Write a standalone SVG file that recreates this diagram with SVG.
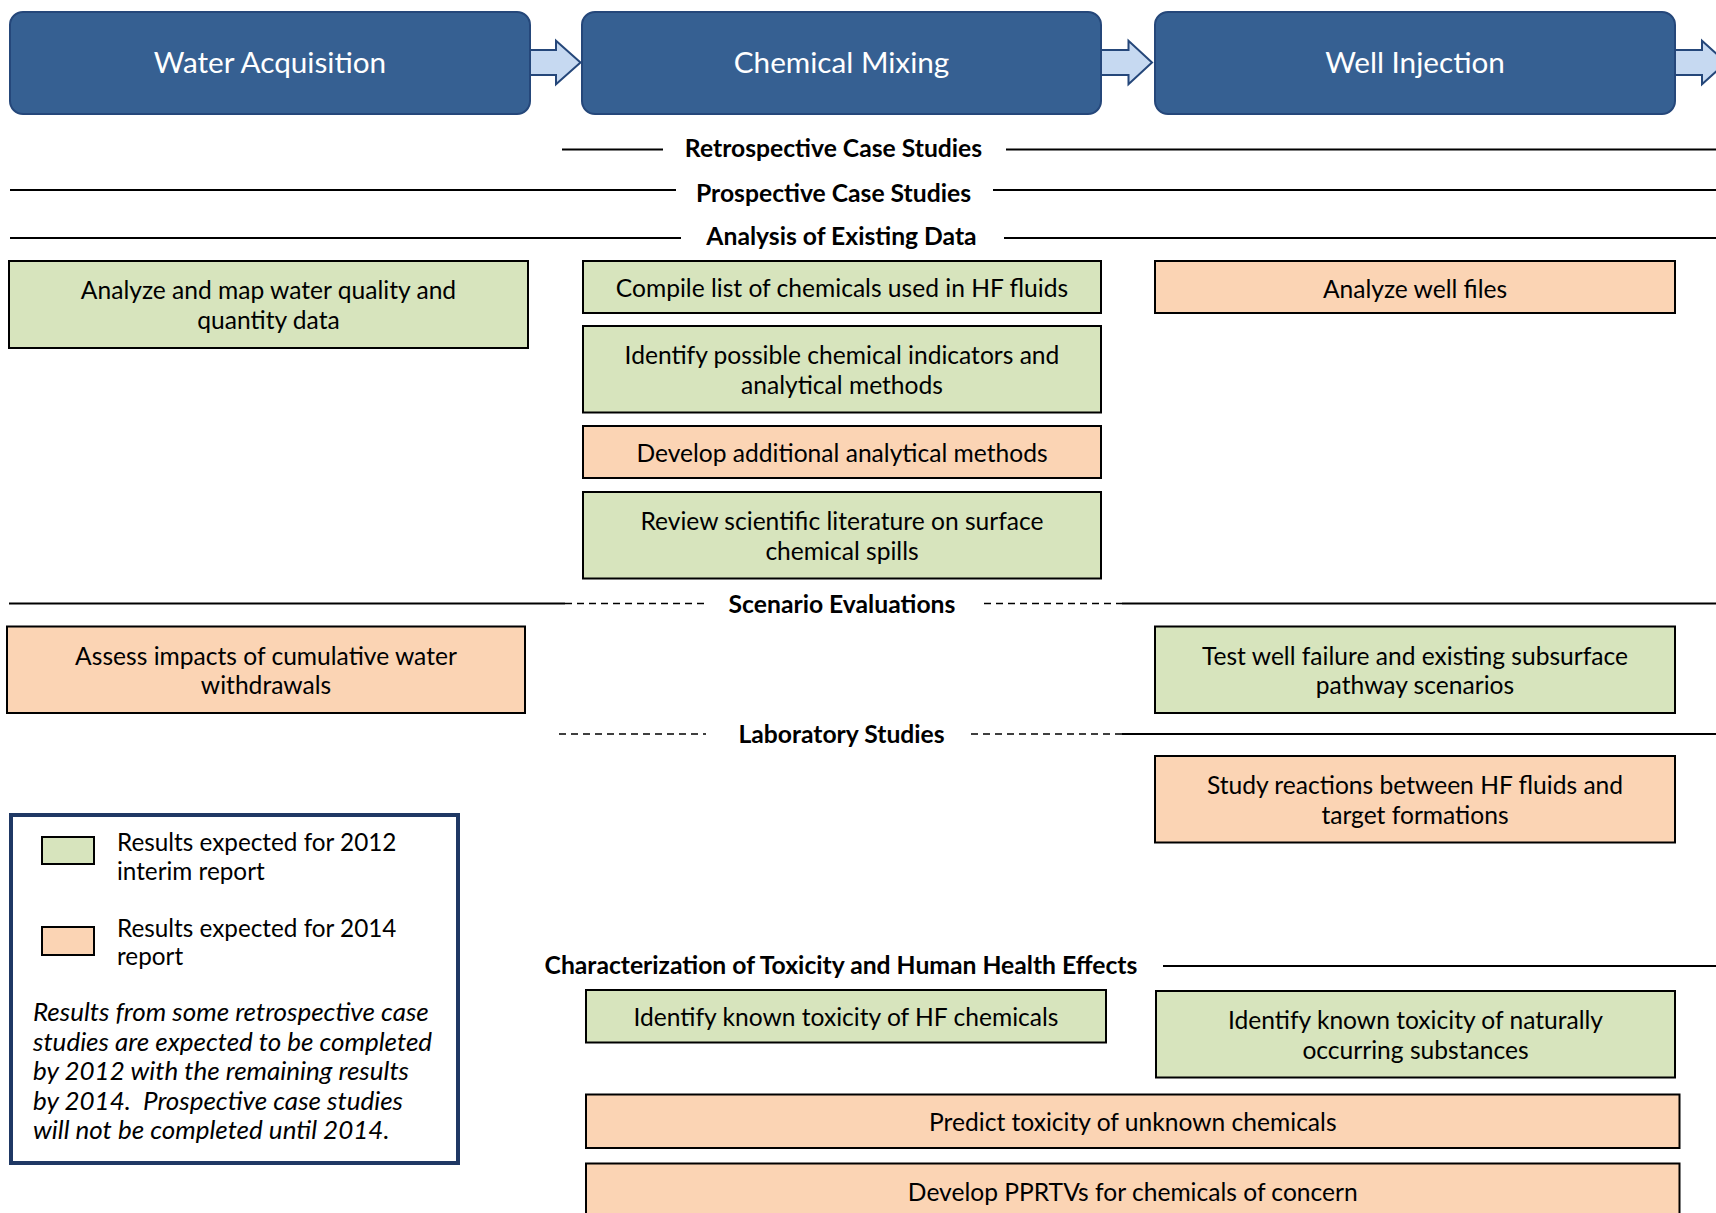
<svg xmlns="http://www.w3.org/2000/svg" width="1716" height="1213" viewBox="0 0 1716 1213">
<style>
.hdr{fill:#366092;stroke:#25477A;stroke-width:2}
.hdrt{font-family:Lato,"Liberation Sans",sans-serif;font-size:29.7px;fill:#fff;text-anchor:middle}
.g{fill:#D7E4BD;stroke:#000;stroke-width:2}
.o{fill:#FBD4B4;stroke:#000;stroke-width:2}
.t{font-family:Lato,"Liberation Sans",sans-serif;font-size:24.6px;fill:#000;text-anchor:middle}
.lb{font-family:Lato,"Liberation Sans",sans-serif;font-size:24.7px;font-weight:bold;fill:#000;text-anchor:middle}
.lt{font-family:Lato,"Liberation Sans",sans-serif;font-size:24.3px;fill:#000}
.it{font-family:Lato,"Liberation Sans",sans-serif;font-size:26px;font-style:italic;fill:#000}
.ln{stroke:#000;stroke-width:2;fill:none}
.dl{stroke:#000;stroke-width:1.6;fill:none;stroke-dasharray:7 5}
.arr{fill:#C6D9F1;stroke:#25477A;stroke-width:2;stroke-linejoin:miter}
</style>
<rect width="1716" height="1213" fill="#fff"/>
<g id="connectors">
<path class="arr" d="M526,50 L556,50 L556,40.7 L580.5,62.5 L556,84.3 L556,75 L526,75 Z"/>
<path class="arr" d="M1097,50 L1128.5,50 L1128.5,40.7 L1152,62.5 L1128.5,84.3 L1128.5,75 L1097,75 Z"/>
<path class="arr" d="M1671,50 L1702,50 L1702,40.7 L1726,62.5 L1702,84.3 L1702,75 L1671,75 Z"/>
</g>
<g id="header-water">
<rect class="hdr" x="10" y="12" width="520" height="102" rx="13"/>
<text class="hdrt" x="270" y="72.5">Water Acquisition</text>
</g>
<g id="header-chemical">
<rect class="hdr" x="582" y="12" width="519" height="102" rx="13"/>
<text class="hdrt" x="841.5" y="72.5">Chemical Mixing</text>
</g>
<g id="header-well">
<rect class="hdr" x="1155" y="12" width="520" height="102" rx="13"/>
<text class="hdrt" x="1415" y="72.5">Well Injection</text>
</g>
<g id="section-lines">
<line class="ln" x1="562" y1="149.5" x2="663" y2="149.5" stroke-width="1.6"/>
<line class="ln" x1="1006" y1="149.5" x2="1716" y2="149.5" stroke-width="1.6"/>
<line class="ln" x1="10" y1="190" x2="676" y2="190"/>
<line class="ln" x1="993" y1="190" x2="1716" y2="190"/>
<line class="ln" x1="10" y1="238" x2="681" y2="238" stroke-width="1.6"/>
<line class="ln" x1="1004" y1="238" x2="1716" y2="238" stroke-width="1.6"/>
<line class="ln" x1="9" y1="603.5" x2="565" y2="603.5"/>
<line class="dl" x1="565" y1="603.5" x2="705" y2="603.5"/>
<line class="dl" x1="984" y1="603.5" x2="1122" y2="603.5"/>
<line class="ln" x1="1122" y1="603.5" x2="1716" y2="603.5"/>
<line class="dl" x1="559" y1="734" x2="706" y2="734"/>
<line class="dl" x1="971" y1="734" x2="1122" y2="734"/>
<line class="ln" x1="1122" y1="734" x2="1716" y2="734"/>
<line class="ln" x1="1163" y1="966" x2="1716" y2="966"/>
</g>
<g id="section-labels">
<text class="lb" x="833.5" y="157">Retrospective Case Studies</text>
<text class="lb" x="833.5" y="202">Prospective Case Studies</text>
<text class="lb" x="841.5" y="244.5">Analysis of Existing Data</text>
<text class="lb" x="842" y="613">Scenario Evaluations</text>
<text class="lb" x="841.5" y="743">Laboratory Studies</text>
<text class="lb" x="841" y="974">Characterization of Toxicity and Human Health Effects</text>
</g>
<g id="analyze-map">
<rect class="g" x="9" y="261" width="519" height="87"/>
<text class="t" x="268.5" y="299">Analyze and map water quality and</text>
<text class="t" x="268.5" y="328.5">quantity data</text>
</g>
<g id="compile-list">
<rect class="g" x="583" y="261" width="518" height="52"/>
<text class="t" x="842" y="297">Compile list of chemicals used in HF fluids</text>
</g>
<g id="analyze-well">
<rect class="o" x="1155" y="261" width="520" height="52"/>
<text class="t" x="1415" y="298">Analyze well files</text>
</g>
<g id="identify-indicators">
<rect class="g" x="583" y="326" width="518" height="86.5"/>
<text class="t" x="842" y="364">Identify possible chemical indicators and</text>
<text class="t" x="842" y="393.5">analytical methods</text>
</g>
<g id="develop-methods">
<rect class="o" x="583" y="426" width="518" height="52"/>
<text class="t" x="842" y="461.5">Develop additional analytical methods</text>
</g>
<g id="review-literature">
<rect class="g" x="583" y="492" width="518" height="86.5"/>
<text class="t" x="842" y="530">Review scientific literature on surface</text>
<text class="t" x="842" y="559.5">chemical spills</text>
</g>
<g id="assess-impacts">
<rect class="o" x="7" y="626.5" width="518" height="86.5"/>
<text class="t" x="266" y="664.5">Assess impacts of cumulative water</text>
<text class="t" x="266" y="694">withdrawals</text>
</g>
<g id="test-well">
<rect class="g" x="1155" y="626.5" width="520" height="86.5"/>
<text class="t" x="1415" y="664.5">Test well failure and existing subsurface</text>
<text class="t" x="1415" y="694">pathway scenarios</text>
</g>
<g id="study-reactions">
<rect class="o" x="1155" y="756" width="520" height="86.5"/>
<text class="t" x="1415" y="794">Study reactions between HF fluids and</text>
<text class="t" x="1415" y="823.5">target formations</text>
</g>
<g id="toxicity-hf">
<rect class="g" x="586" y="990" width="520" height="52.5"/>
<text class="t" x="846" y="1026">Identify known toxicity of HF chemicals</text>
</g>
<g id="toxicity-natural">
<rect class="g" x="1156" y="991" width="519" height="86.5"/>
<text class="t" x="1415.5" y="1029">Identify known toxicity of naturally</text>
<text class="t" x="1415.5" y="1058.5">occurring substances</text>
</g>
<g id="predict-toxicity">
<rect class="o" x="586" y="1094.5" width="1093.5" height="53.5"/>
<text class="t" x="1132.8" y="1130.5">Predict toxicity of unknown chemicals</text>
</g>
<g id="develop-pprtvs">
<rect class="o" x="586" y="1163.5" width="1093.5" height="60"/>
<text class="t" x="1132.8" y="1200.5">Develop PPRTVs for chemicals of concern</text>
</g>
<g id="legend">
<rect x="11" y="815" width="447" height="348" fill="#fff" stroke="#1F3864" stroke-width="4"/>
<rect class="g" x="42" y="837" width="52" height="27"/>
<text class="lt" x="117" y="850.5">Results expected for 2012</text>
<text class="lt" x="117" y="879.5">interim report</text>
<rect class="o" x="42" y="927" width="52" height="28"/>
<text class="lt" x="117" y="936.5">Results expected for 2014</text>
<text class="lt" x="117" y="964.5">report</text>
<text class="it" x="33" y="1021">Results from some retrospective case</text>
<text class="it" x="33" y="1050.5">studies are expected to be completed</text>
<text class="it" x="33" y="1080">by 2012 with the remaining results</text>
<text class="it" x="33" y="1109.5">by 2014.&#160; Prospective case studies</text>
<text class="it" x="33" y="1139">will not be completed until 2014.</text>
</g>
</svg>
